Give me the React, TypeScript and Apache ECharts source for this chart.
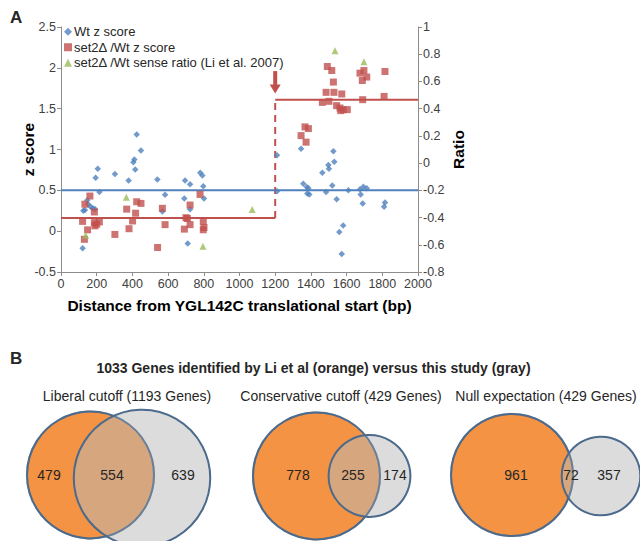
import React, { useEffect, useRef } from "react";
import * as echarts from "echarts";

// ---------- Panel A data ----------
const wtZScore: [number, number][] = [
  [121, -0.21], [125, 0.25], [134, 0.26], [147, 0.38], [152, 0.33], [166, 0.3], [178, 0.28], [190, 0.27],
  [194, 0.655], [206, 0.765], [215, 0.48], [302, 0.7], [379, 0.62], [405, 0.845], [411, 0.878], [416, 0.756],
  [424, 1.183], [448, 0.988], [540, 0.634], [568, 0.24], [583, 0.447], [691, 0.4], [695, 0.62], [710, -0.15],
  [723, 0.573], [723, 0.268], [780, 0.715], [792, 0.683], [797, 0.55], [801, 0.4], [1210, 0.93], [1210, 0.49],
  [1345, 1.01], [1357, 0.58], [1377, 0.54], [1386, 0.524], [1380, 0.46], [1391, 0.45], [1464, 0.716], [1485, 0.48],
  [1498, 0.81], [1501, 0.765], [1520, 0.56], [1526, 0.98], [1531, 0.85], [1544, 0.39], [1559, -0.01], [1573, -0.28],
  [1581, 0.07], [1610, 0.5], [1675, 0.512], [1679, 0.45], [1690, 0.34], [1694, 0.545], [1713, 0.524], [1810, 0.3],
  [1815, 0.35],
];

const set2ZScore: [number, number][] = [
  [121, 0.12], [131, -0.1], [134, 0.33], [149, 0.016], [162, 0.43], [187, 0.235], [187, 0.105], [190, 0.065],
  [200, 0.085], [215, 0.113], [302, -0.04], [368, 0.27], [381, 0.03], [401, 0.125], [418, 0.22], [424, 0.36],
  [448, 0.34], [541, -0.2], [568, 0.28], [583, 0.08], [691, 0.025], [700, 0.165], [708, 0.155], [723, 0.32],
  [723, 0.08], [779, 0.45], [797, 0.12], [797, 0.017], [801, 0.045],
  [1345, 1.17], [1367, 1.277], [1373, 1.09], [1386, 1.256], [1464, 1.577], [1485, 1.7], [1492, 2.016], [1501, 1.59],
  [1517, 1.967], [1526, 1.826], [1529, 1.7], [1544, 1.537], [1563, 1.508], [1567, 1.476], [1573, 1.68], [1581, 1.488],
  [1604, 1.488], [1675, 1.935], [1688, 1.845], [1690, 1.61], [1697, 1.967], [1713, 1.887], [1810, 1.65], [1815, 1.955],
];

const senseRatio: [number, number][] = [
  [138, -0.53], [366, -0.25], [795, -0.61], [1071, -0.34], [1535, 0.826], [1697, 0.745],
];

const xRange = [0, 2000];
const wtMean = 0.5;
const boundaryX = 1200;
const set2MeanBefore = 0.16;
const set2MeanAfter = 1.61;
const arrowZ = [1.96, 1.74];

// ---------- Panel B data ----------
const vennTitles = ["Liberal cutoff (1193 Genes)", "Conservative cutoff (429 Genes)", "Null expectation (429 Genes)"];
const liOnly = [479, 778, 961];
const overlap = [554, 255, 72];
const studyOnly = [639, 174, 357];

const FONT = "'Liberation Sans', Arial, Helvetica, sans-serif";
const BLUE = "#4F81BD";
const RED = "#C0504D";
const GREEN = "#9BBB59";
const AXIS = "#8C8C8C";
const LABEL = "#404040";

// layout of the three Venn diagrams (pixel positions)
const vennLayout = [
  { ox: 90.5, oy: 475, orR: 63.5, gx: 142, gy: 478, tx: [49, 112, 183], titleX: 127 },
  { ox: 316.5, oy: 476, orR: 63.5, gx: 369.5, gy: 476, tx: [298, 353, 395], titleX: 341 },
  { ox: 512, oy: 475, orR: 61, gx: 601, gy: 476, tx: [516, 571, 609], titleX: 546 },
];

function buildGraphics() {
  const els: any[] = [];
  const txt = (x: number, y: number, text: string, size: number, weight = "normal", align = "center") => ({
    type: "text",
    x,
    y,
    z: 100,
    style: {
      text,
      fill: "#262626",
      fontSize: size,
      fontWeight: weight,
      fontFamily: FONT,
      align,
      verticalAlign: "middle",
      textAlign: align,
      textVerticalAlign: "middle",
    },
  });
  els.push(txt(10, 17, "A", 17, "bold", "left"));
  els.push(txt(10, 358, "B", 17, "bold", "left"));
  els.push(txt(313.5, 368, "1033 Genes identified by Li et al (orange) versus this study (gray)", 14, "bold"));
  vennLayout.forEach((v, i) => {
    const liTotal = liOnly[i] + overlap[i];
    const studyTotal = studyOnly[i] + overlap[i];
    const gR = v.orR * Math.sqrt(studyTotal / liTotal);
    els.push(txt(v.titleX, 396, vennTitles[i], 14));
    els.push({
      type: "circle",
      z: 10,
      shape: { cx: v.ox, cy: v.oy, r: v.orR },
      style: { fill: "#F39343", stroke: "#4B6A8C", lineWidth: 2 },
    });
    els.push({
      type: "circle",
      z: 11,
      shape: { cx: v.gx, cy: v.gy, r: gR },
      style: { fill: "rgba(185,185,185,0.5)", stroke: "#4B6A8C", lineWidth: 2 },
    });
    els.push({
      type: "circle",
      z: 12,
      shape: { cx: v.ox, cy: v.oy, r: v.orR },
      style: { fill: "none", stroke: "rgba(75,106,140,0.45)", lineWidth: 2 },
    });
    els.push(txt(v.tx[0], 475, String(liOnly[i]), 14));
    els.push(txt(v.tx[1], 475, String(overlap[i]), 14));
    els.push(txt(v.tx[2], 475, String(studyOnly[i]), 14));
  });
  return els;
}

function buildOption(): any {
  const axisCommon = {
    axisLine: { show: true, onZero: false, lineStyle: { color: AXIS, width: 1 } },
    axisTick: { show: true, inside: false, length: 4, lineStyle: { color: AXIS } },
    splitLine: { show: false },
    axisLabel: { color: LABEL, fontSize: 12.5, fontFamily: FONT, margin: 5, formatter: (v: number) => String(v) },
    nameTextStyle: { color: "#000", fontSize: 15.5, fontWeight: "bold", fontFamily: FONT },
    nameMoveOverlap: false,
  };
  return {
    animation: false,
    backgroundColor: "#fff",
    textStyle: { fontFamily: FONT },
    grid: { left: 61, right: 222, top: 27, bottom: 269, containLabel: false },
    legend: {
      show: true,
      orient: "vertical",
      left: 64,
      top: 25,
      itemWidth: 8,
      itemHeight: 8,
      itemGap: 2,
      padding: 0,
      data: ["Wt z score", "set2Δ /Wt z score", "set2Δ /Wt sense ratio (Li et al. 2007)"],
      textStyle: { color: "#262626", fontSize: 13, fontFamily: FONT, lineHeight: 13.5, padding: [0, 0, 0, -3] },
    },
    xAxis: {
      type: "value",
      min: xRange[0],
      max: xRange[1],
      interval: 200,
      name: "Distance from YGL142C translational start (bp)",
      nameLocation: "middle",
      nameGap: 25,
      ...axisCommon,
    },
    yAxis: [
      {
        type: "value",
        min: -0.5,
        max: 2.5,
        interval: 0.5,
        name: "z score",
        nameLocation: "middle",
        nameGap: 25,
        ...axisCommon,
      },
      {
        type: "value",
        position: "right",
        min: -0.8,
        max: 1,
        interval: 0.2,
        name: "Ratio",
        nameLocation: "middle",
        nameGap: 32,
        nameRotate: 90,
        ...axisCommon,
      },
    ],
    series: [
      {
        name: "Wt mean",
        type: "line",
        data: [[xRange[0], wtMean], [xRange[1], wtMean]],
        symbol: "none",
        lineStyle: { color: BLUE, width: 2 },
        z: 1,
        silent: true,
      },
      {
        name: "set2 mean before",
        type: "line",
        data: [[xRange[0], set2MeanBefore], [boundaryX, set2MeanBefore]],
        symbol: "none",
        lineStyle: { color: RED, width: 2 },
        z: 1,
        silent: true,
      },
      {
        name: "set2 step",
        type: "line",
        data: [[boundaryX, set2MeanBefore], [boundaryX, set2MeanAfter]],
        symbol: "none",
        lineStyle: { color: RED, width: 2, type: [7, 5] },
        z: 1,
        silent: true,
      },
      {
        name: "set2 mean after",
        type: "line",
        data: [[boundaryX, set2MeanAfter], [xRange[1], set2MeanAfter]],
        symbol: "none",
        lineStyle: { color: RED, width: 2 },
        z: 1,
        silent: true,
      },
      {
        name: "arrow",
        type: "line",
        data: [
          { value: [boundaryX, arrowZ[0]], symbol: "none" },
          { value: [boundaryX, arrowZ[1]], symbol: "triangle", symbolRotate: 180, symbolSize: [11, 9] },
        ],
        lineStyle: { color: RED, width: 4 },
        itemStyle: { color: RED },
        z: 3,
        silent: true,
      },
      {
        name: "Wt z score",
        type: "scatter",
        data: wtZScore,
        symbol: "diamond",
        symbolSize: 6.5,
        itemStyle: { color: BLUE },
        z: 4,
      },
      {
        name: "set2Δ /Wt z score",
        type: "scatter",
        data: set2ZScore,
        symbol: "rect",
        symbolSize: 7,
        itemStyle: { color: RED },
        z: 5,
      },
      {
        name: "set2Δ /Wt sense ratio (Li et al. 2007)",
        type: "scatter",
        yAxisIndex: 1,
        data: senseRatio,
        symbol: "triangle",
        symbolSize: 7,
        itemStyle: { color: GREEN },
        z: 6,
      },
    ],
    graphic: buildGraphics(),
  };
}

export default function App() {
  const ref = useRef<HTMLDivElement>(null);
  useEffect(() => {
    if (!ref.current) return;
    const chart = echarts.init(ref.current, null, { renderer: "svg" });
    chart.setOption(buildOption());
    return () => chart.dispose();
  }, []);
  return (
    <div
      ref={ref}
      style={{ position: "absolute", left: 0, top: 0, width: 640, height: 541, background: "#fff" }}
    />
  );
}
